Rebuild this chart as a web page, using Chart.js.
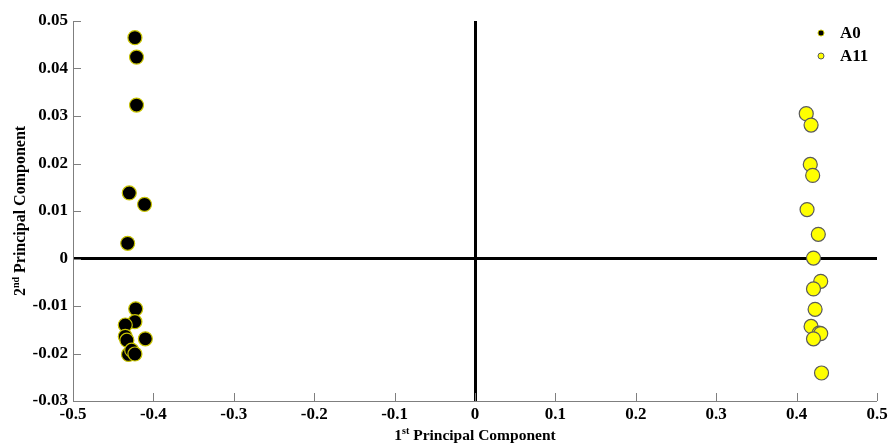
<!DOCTYPE html>
<html>
<head>
<meta charset="utf-8">
<script src="https://cdn.jsdelivr.net/npm/chart.js@4.4.1/dist/chart.umd.min.js"></script>
<style>
    body { margin: 0; background: #fff; }
    #wrap { width: 891px; height: 444px; }
</style>
</head>
<body>
<div id="wrap"><canvas id="pcaChart"></canvas></div>
<script>
// Puntuaciones de las dos primeras componentes
const a0X = [-0.423, -0.421, -0.421, -0.430, -0.411, -0.432, -0.422, -0.423, -0.435, -0.435, -0.433, -0.410, -0.431, -0.427, -0.423];
const a0Y = [0.0465, 0.0424, 0.0323, 0.0138, 0.0114, 0.0032, -0.0106, -0.0133, -0.0140, -0.0164, -0.0172, -0.0169, -0.0202, -0.0193, -0.0201];
const a11X = [0.412, 0.418, 0.417, 0.420, 0.413, 0.427, 0.421, 0.430, 0.421, 0.423, 0.418, 0.428, 0.430, 0.421, 0.431];
const a11Y = [0.0305, 0.0281, 0.0198, 0.0175, 0.0103, 0.0051, 0.0001, -0.0048, -0.0064, -0.0107, -0.0143, -0.0157, -0.0158, -0.0169, -0.0241];
const seriesLabels = ['A0', 'A11'];

const toPoints = (xs, ys) => xs.map((x, i) => ({ x: x, y: ys[i] }));
const serif = 'Liberation Serif, Times New Roman, serif';

// Marcas de los ejes hacia dentro, títulos y leyenda
const decorPlugin = {
    id: 'decor',
    afterDraw(chart) {
        const ctx = chart.ctx;
        const xs = chart.scales.x, ys = chart.scales.y;
        const area = chart.chartArea;
        ctx.save();
        ctx.strokeStyle = '#7f7f7f';
        ctx.lineWidth = 1;
        xs.ticks.forEach(t => {
            const px = Math.round(xs.getPixelForValue(t.value)) + 0.5;
            ctx.beginPath();
            ctx.moveTo(px, area.bottom);
            ctx.lineTo(px, area.bottom - 8);
            ctx.stroke();
        });
        ys.ticks.forEach(t => {
            const py = Math.round(ys.getPixelForValue(t.value)) + 0.5;
            ctx.beginPath();
            ctx.moveTo(area.left, py);
            ctx.lineTo(area.left + 8, py);
            ctx.stroke();
        });

        // títulos con superíndice
        function supText(parts, cx, cy, size) {
            const supSize = Math.round(size * 0.65);
            let w = 0;
            parts.forEach(p => {
                ctx.font = 'bold ' + (p.sup ? supSize : size) + 'px ' + serif;
                w += ctx.measureText(p.t).width;
            });
            let x = cx - w / 2;
            ctx.textBaseline = 'alphabetic';
            ctx.textAlign = 'left';
            parts.forEach(p => {
                ctx.font = 'bold ' + (p.sup ? supSize : size) + 'px ' + serif;
                ctx.fillText(p.t, x, p.sup ? cy - 6 : cy);
                x += ctx.measureText(p.t).width;
            });
        }
        ctx.fillStyle = '#000';
        supText([{ t: '1' }, { t: 'st', sup: true }, { t: ' Principal Component' }], (area.left + area.right) / 2, 440, 15.5);
        ctx.save();
        ctx.translate(25, (area.top + area.bottom) / 2);
        ctx.rotate(-Math.PI / 2);
        supText([{ t: '2' }, { t: 'nd', sup: true }, { t: ' Principal Component' }], 0, 0, 16);
        ctx.restore();

        // leyenda
        chart.data.datasets.forEach((ds, i) => {
            const y = 33 + i * 23;
            ctx.beginPath();
            ctx.arc(821, y, 3, 0, Math.PI * 2);
            ctx.fillStyle = ds.backgroundColor;
            ctx.fill();
            ctx.strokeStyle = ds.borderColor;
            ctx.lineWidth = 1;
            ctx.stroke();
            ctx.fillStyle = '#000';
            ctx.font = 'bold 17px ' + serif;
            ctx.textAlign = 'left';
            ctx.textBaseline = 'middle';
            ctx.fillText(ds.label, 840, y + 1);
        });
        ctx.restore();
    }
};

const zeroGrid = {
    drawTicks: false,
    lineWidth: c => (c.tick && c.tick.value === 0 ? 3 : 0),
    color: c => (c.tick && c.tick.value === 0 ? '#000' : 'rgba(0,0,0,0)')
};

new Chart(document.getElementById('pcaChart'), {
    type: 'scatter',
    data: {
        datasets: [{
            label: seriesLabels[0],
            data: toPoints(a0X, a0Y),
            backgroundColor: '#000000',
            borderColor: '#c8c400',
            borderWidth: 1.2,
            pointRadius: 7,
            pointHoverRadius: 7
        }, {
            label: seriesLabels[1],
            data: toPoints(a11X, a11Y),
            backgroundColor: '#ffff00',
            borderColor: '#5a5a5a',
            borderWidth: 1.2,
            pointRadius: 7,
            pointHoverRadius: 7
        }]
    },
    options: {
        responsive: true,
        maintainAspectRatio: false,
        animation: false,
        layout: { padding: { top: 21, right: 14, left: 0, bottom: 0 } },
        plugins: {
            legend: { display: false },
            tooltip: { enabled: false }
        },
        scales: {
            x: {
                type: 'linear',
                min: -0.5,
                max: 0.5,
                ticks: {
                    stepSize: 0.1,
                    padding: 3,
                    color: '#000',
                    font: { family: serif, size: 17, weight: 'bold' },
                    callback: v => (Math.abs(v) < 1e-9 ? '0' : (Math.round(v * 10) / 10).toFixed(1))
                },
                grid: zeroGrid,
                border: { color: '#7f7f7f', width: 1 },
                afterFit: s => { s.height = 43; }
            },
            y: {
                type: 'linear',
                min: -0.03,
                max: 0.05,
                ticks: {
                    stepSize: 0.01,
                    padding: 5,
                    color: '#000',
                    font: { family: serif, size: 17, weight: 'bold' },
                    callback: v => (Math.abs(v) < 1e-9 ? '0' : (Math.round(v * 100) / 100).toFixed(2))
                },
                grid: zeroGrid,
                border: { color: '#7f7f7f', width: 1 },
                afterFit: s => { s.width = 73; }
            }
        }
    },
    plugins: [decorPlugin]
});
</script>
</body>
</html>
